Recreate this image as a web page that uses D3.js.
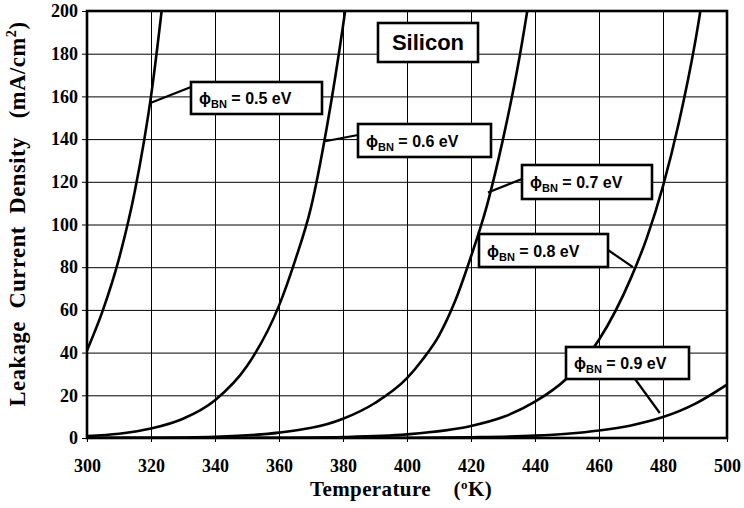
<!DOCTYPE html>
<html>
<head>
<meta charset="utf-8">
<script src="https://cdn.jsdelivr.net/npm/d3@7"></script>
<style>
body { margin: 0; background: #fff; }
.tick text { font-family: "Liberation Serif", "Times New Roman", serif; font-weight: bold; font-size: 18px; fill: #000; }
.tick line { stroke: #000; stroke-width: 1; }
.axis-title { font-family: "Liberation Serif", "Times New Roman", serif; font-weight: bold; fill: #000; white-space: pre; }
.box-label { font-family: "Liberation Sans", Arial, sans-serif; font-weight: bold; fill: #000; }
</style>
</head>
<body>
<svg id="chart" width="744" height="508"></svg>
<script>
// axis ticks
const tempTicks = [300, 320, 340, 360, 380, 400, 420, 440, 460, 480, 500];
const densityTicks = [0, 20, 40, 60, 80, 100, 120, 140, 160, 180, 200];

// barrier heights (eV)
const barriers = ["0.5", "0.6", "0.7", "0.8", "0.9"];

// leakage current density (mA/cm2)
const temps05 = [300, 305, 310, 315, 320, 325];
const j05 = [41, 60, 84, 116, 160, 222];

const temps06 = [300, 310, 320, 330, 340, 350, 360, 365, 370, 375, 380, 385];
const j06 = [0.9, 2.0, 4.4, 9.0, 17.7, 33.7, 62, 83, 108, 146, 193, 249];

const temps07 = [300, 320, 340, 360, 380, 390, 400, 405, 410, 415, 420, 425, 430, 435, 440];
const j07 = [0.02, 0.12, 0.6, 2.5, 9.0, 16.4, 28, 37, 48, 64, 85, 109, 140, 177, 223];

const temps08 = [300, 340, 360, 380, 400, 420, 430, 440, 450, 460, 470, 475, 480, 485, 490, 495];
const j08 = [0.001, 0.02, 0.1, 0.45, 1.7, 5.6, 9.8, 17, 28, 46, 75, 94, 118, 148, 185, 232];

const temps09 = [300, 380, 400, 420, 440, 450, 460, 470, 480, 490, 500];
const j09 = [0, 0.02, 0.09, 0.34, 1.1, 2.0, 3.5, 5.9, 9.8, 16, 25];

const seriesTemps = [temps05, temps06, temps07, temps08, temps09];
const seriesDensity = [j05, j06, j07, j08, j09];

// where each label's leader touches its curve (data units)
const leaderT = [320, 374.4, 425.3, 470.6, 479];
const leaderJ = [157, 139, 115, 80, 11.7];

const svg = d3.select("#chart");
svg.append("rect").attr("width", 744).attr("height", 508).attr("fill", "#fff");

const plotLeft = 87, plotRight = 727, plotTop = 11, plotBottom = 438;
const W = plotRight - plotLeft, H = plotBottom - plotTop;

const x = d3.scaleLinear().domain([300, 500]).range([plotLeft, plotRight]);
const y = d3.scaleLinear().domain([0, 200]).range([plotBottom, plotTop]);

// grid + ticks
const yAxis = d3.axisLeft(y).tickValues(densityTicks).tickSize(-(W + 5)).tickPadding(4);
svg.append("g").attr("transform", `translate(${plotLeft - 5},0)`).call(yAxis)
  .call(g => g.select(".domain").remove());

const xAxis = d3.axisBottom(x).tickValues(tempTicks).tickSize(-(H + 4)).tickPadding(30);
svg.append("g").attr("transform", `translate(0,${plotBottom + 4})`).call(xAxis)
  .call(g => g.select(".domain").remove())
  .call(g => g.selectAll("text").attr("dy", "0"));

// curves
svg.append("clipPath").attr("id", "plot-clip")
  .append("rect").attr("x", plotLeft).attr("y", plotTop).attr("width", W).attr("height", H);

const line = d3.line()
  .x(d => x(d[0]))
  .y(d => y(d[1]))
  .curve(d3.curveMonotoneX);

svg.append("g").attr("clip-path", "url(#plot-clip)")
  .selectAll("path")
  .data(seriesTemps.map((ts, i) => ts.map((t, k) => [t, seriesDensity[i][k]])))
  .join("path")
  .attr("d", line)
  .attr("fill", "none")
  .attr("stroke", "#000")
  .attr("stroke-width", 2.6);

// plot border
svg.append("rect")
  .attr("x", plotLeft).attr("y", plotTop).attr("width", W).attr("height", H)
  .attr("fill", "none").attr("stroke", "#000").attr("stroke-width", 2.6);

// axis titles
svg.append("text").attr("class", "axis-title")
  .attr("x", 401).attr("y", 496).attr("text-anchor", "middle")
  .style("font-size", "21px").style("letter-spacing", "0.4px")
  .call(t => {
    t.append("tspan").text("Temperature    (");
    t.append("tspan").text("o").attr("dy", -7).style("font-size", "13px");
    t.append("tspan").text("K)").attr("dy", 7);
  });

svg.append("text").attr("class", "axis-title")
  .attr("transform", `translate(25,${214}) rotate(-90)`)
  .attr("text-anchor", "middle")
  .style("font-size", "22.5px").style("letter-spacing", "0.6px")
  .call(t => {
    t.append("tspan").text("Leakage  Current  Density   (mA/cm");
    t.append("tspan").text("2").attr("dy", -9).style("font-size", "14px");
    t.append("tspan").text(")").attr("dy", 9);
  });

// label boxes (pixel layout)
const boxes = [
  { x: 191, y: 82, w: 131, h: 32, lx: 191, ly: 87 },
  { x: 358, y: 124, w: 133, h: 33, lx: 358, ly: 135 },
  { x: 522, y: 165, w: 130, h: 34, lx: 522, ly: 179 },
  { x: 479, y: 234, w: 129, h: 33, lx: 608, ly: 250 },
  { x: 566, y: 347, w: 123, h: 32, lx: 635, ly: 379 }
];

boxes.forEach((b, i) => {
  svg.append("line")
    .attr("x1", b.lx).attr("y1", b.ly)
    .attr("x2", x(leaderT[i])).attr("y2", y(leaderJ[i]))
    .attr("stroke", "#000").attr("stroke-width", 2.2);
  svg.append("rect")
    .attr("x", b.x).attr("y", b.y).attr("width", b.w).attr("height", b.h)
    .attr("fill", "#fff").attr("stroke", "#000").attr("stroke-width", 2.6);
  const t = svg.append("text").attr("class", "box-label")
    .attr("x", b.x + 8).attr("y", b.y + b.h / 2 + 6)
    .style("font-size", "16px");
  t.append("tspan").text("\u03D5");
  t.append("tspan").text("BN").attr("dy", 4).style("font-size", "11px");
  t.append("tspan").text(` = ${barriers[i]} eV`).attr("dy", -4);
});

// Silicon title box
svg.append("rect")
  .attr("x", 378).attr("y", 23).attr("width", 100).attr("height", 39)
  .attr("fill", "#fff").attr("stroke", "#000").attr("stroke-width", 2.6);
svg.append("text").attr("class", "box-label")
  .attr("x", 428).attr("y", 50).attr("text-anchor", "middle")
  .style("font-size", "22px")
  .text("Silicon");
</script>
</body>
</html>
